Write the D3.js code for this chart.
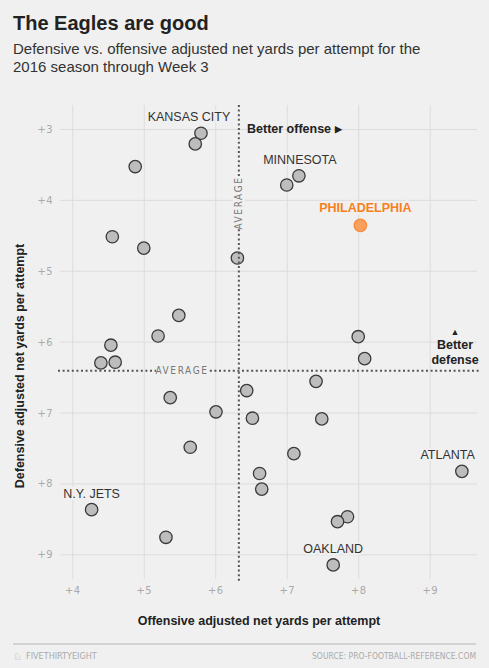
<!DOCTYPE html>
<html>
<head>
<meta charset="utf-8">
<script src="https://cdn.jsdelivr.net/npm/d3@7"></script>
<style>
  body { margin: 0; background: #f0f0f0; }
  svg { display: block; font-family: "Liberation Sans", Arial, sans-serif; }
  .tick text { font-family: "DejaVu Sans Condensed", "Liberation Sans Narrow", sans-serif; fill: #aaa; font-size: 11px; letter-spacing: 0.5px; }
  .tick line { stroke: #dcdcdc; }
  .domain { display: none; }
</style>
</head>
<body>
<svg id="chart"></svg>
<script>
// 32 teams, offensive vs defensive ANY/A through week 3 (only six are named in the chart)
const teams = [
  'Kansas City', '', '', '', '', '',
  'Minnesota', '', 'Philadelphia',
  '', '', '', '', '', '', '', '', '',
  '', '', '', '', '', '', '', '', 'Atlanta',
  'N.Y. Jets', '', '', '', 'Oakland'
];
const offense = [
  5.80, 5.72, 4.88, 4.56, 5.00, 6.31,
  7.17, 7.00, 8.03,
  5.49, 5.20, 4.54, 4.40, 4.60, 5.37, 6.01, 5.65, 6.44,
  8.00, 8.09, 7.41, 6.52, 7.49, 7.10, 6.62, 6.65, 9.45,
  4.27, 5.31, 7.85, 7.71, 7.65
];
const defense = [
  3.06, 3.21, 3.53, 4.52, 4.68, 4.82,
  3.66, 3.79, 4.36,
  5.63, 5.92, 6.05, 6.30, 6.29, 6.79, 6.99, 7.49, 6.69,
  5.93, 6.24, 6.56, 7.08, 7.09, 7.58, 7.86, 8.08, 7.83,
  8.37, 8.76, 8.47, 8.54, 9.15
];
const avgOffense = 6.33;
const avgDefense = 6.41;
const xTicks = [4, 5, 6, 7, 8, 9];
const yTicks = [3, 4, 5, 6, 7, 8, 9];
const labelled = ['Kansas City', 'Minnesota', 'Philadelphia', 'Atlanta', 'N.Y. Jets', 'Oakland'];
const highlight = 'Philadelphia';

const width = 489;
const height = 668;
const orange = '#f77f1e';

const data = teams.map((name, i) => ({ name, off: offense[i], def: defense[i] }));

const svg = d3.select('#chart')
  .attr('width', width)
  .attr('height', height);

svg.append('rect')
  .attr('width', width)
  .attr('height', height)
  .attr('fill', '#f0f0f0');

// header
svg.append('text')
  .attr('x', 13)
  .attr('y', 30)
  .attr('font-size', 20)
  .attr('font-weight', 'bold')
  .attr('fill', '#222')
  .text('The Eagles are good');

svg.append('text')
  .attr('x', 13)
  .attr('y', 54)
  .attr('font-size', 15)
  .attr('fill', '#333')
  .text('Defensive vs. offensive adjusted net yards per attempt for the');

svg.append('text')
  .attr('x', 13)
  .attr('y', 72)
  .attr('font-size', 15)
  .attr('fill', '#333')
  .text('2016 season through Week 3');

const scaleX = d3.scaleLinear()
  .domain([4, 9])
  .range([72.3, 429.7]);

const scaleY = d3.scaleLinear()
  .domain([3, 9])
  .range([129, 554.3]);

const plotTop = 105;
const plotBottom = 579;
const plotLeft = 60;
const plotRight = 477;

// grid + ticks
svg.append('g')
  .attr('transform', `translate(0,${plotBottom})`)
  .call(d3.axisBottom(scaleX)
    .tickValues(xTicks)
    .tickSize(-(plotBottom - plotTop))
    .tickPadding(7)
    .tickFormat(d => '+' + d));

svg.append('g')
  .attr('transform', `translate(${plotLeft},0)`)
  .call(d3.axisLeft(scaleY)
    .tickValues(yTicks)
    .tickSize(-(plotRight - plotLeft))
    .tickPadding(7)
    .tickFormat(d => '+' + d))
  .selectAll('.tick text')
  .attr('x', -7);

// team labels (drawn before dots)
const labelPos = {
  'Kansas City': { dx: -12, dy: -12, anchor: 'middle' },
  'Minnesota': { dx: 1, dy: -12, anchor: 'middle' },
  'Philadelphia': { dx: 5, dy: -13, anchor: 'middle' },
  'Atlanta': { dx: 13, dy: -12, anchor: 'end' },
  'N.Y. Jets': { dx: 0, dy: -12, anchor: 'middle' },
  'Oakland': { dx: 0, dy: -12, anchor: 'middle' },
};

svg.append('g')
  .selectAll('text')
  .data(data.filter(d => labelled.includes(d.name)))
  .enter().append('text')
  .attr('x', d => scaleX(d.off) + labelPos[d.name].dx)
  .attr('y', d => scaleY(d.def) + labelPos[d.name].dy)
  .attr('text-anchor', d => labelPos[d.name].anchor)
  .attr('font-size', 12.5)
  .attr('font-weight', d => d.name === highlight ? 'bold' : 'normal')
  .attr('fill', d => d.name === highlight ? orange : '#333')
  .attr('stroke', '#f0f0f0')
  .attr('stroke-width', 4)
  .attr('paint-order', 'stroke')
  .text(d => d.name.toUpperCase());

// dots
svg.append('g')
  .selectAll('circle')
  .data(data)
  .enter().append('circle')
  .attr('cx', d => scaleX(d.off))
  .attr('cy', d => scaleY(d.def))
  .attr('r', 6.2)
  .attr('fill', d => d.name === highlight ? '#f9a05c' : '#bdbdbd')
  .attr('stroke', d => d.name === highlight ? '#f98a3c' : '#3a3a3a')
  .attr('stroke-width', 1.3);

// average lines
const dotted = { stroke: '#555', 'stroke-width': 2, 'stroke-dasharray': '2,2.6' };

const vAvg = svg.append('line')
  .attr('x1', scaleX(avgOffense))
  .attr('x2', scaleX(avgOffense))
  .attr('y1', plotTop)
  .attr('y2', plotBottom + 2);
const hAvg = svg.append('line')
  .attr('x1', 58)
  .attr('x2', 481)
  .attr('y1', scaleY(avgDefense))
  .attr('y2', scaleY(avgDefense));
[vAvg, hAvg].forEach(l => Object.entries(dotted).forEach(([k, v]) => l.attr(k, v)));

function avgLabel(x, y, rotate) {
  const g = svg.append('g')
    .attr('transform', `translate(${x},${y}) rotate(${rotate})`);
  g.append('rect')
    .attr('x', -26)
    .attr('y', -6)
    .attr('width', 52)
    .attr('height', 12)
    .attr('fill', '#f0f0f0');
  g.append('text')
    .attr('text-anchor', 'middle')
    .attr('dy', '0.36em')
    .attr('font-family', '"DejaVu Sans Condensed", sans-serif')
    .attr('font-size', 10)
    .attr('letter-spacing', 1.6)
    .attr('fill', '#777')
    .text('AVERAGE');
}
avgLabel(scaleX(avgOffense), 203, -90);
avgLabel(182, scaleY(avgDefense), 0);

// direction notes
const offNote = svg.append('text')
  .attr('x', 247)
  .attr('y', 133)
  .attr('font-size', 12.5)
  .attr('font-weight', 'bold')
  .attr('fill', '#222');
offNote.append('tspan').text('Better offense ');
offNote.append('tspan').attr('font-size', 9).attr('dy', -1).text('\u25B6');

const defNote = svg.append('text')
  .attr('text-anchor', 'middle')
  .attr('font-size', 12.5)
  .attr('font-weight', 'bold')
  .attr('fill', '#222');
defNote.append('tspan').attr('x', 455).attr('y', 335).attr('font-size', 9).text('\u25B2');
defNote.append('tspan').attr('x', 455).attr('y', 349).text('Better');
defNote.append('tspan').attr('x', 455).attr('y', 363.5).text('defense');

// axis titles
svg.append('text')
  .attr('x', 259)
  .attr('y', 625)
  .attr('text-anchor', 'middle')
  .attr('font-size', 12.5)
  .attr('font-weight', 'bold')
  .attr('fill', '#222')
  .text('Offensive adjusted net yards per attempt');

svg.append('text')
  .attr('transform', 'translate(24,366) rotate(-90)')
  .attr('text-anchor', 'middle')
  .attr('font-size', 12.5)
  .attr('font-weight', 'bold')
  .attr('fill', '#222')
  .text('Defensive adjusted net yards per attempt');

// footer
svg.append('line')
  .attr('x1', 13)
  .attr('x2', 476)
  .attr('y1', 644)
  .attr('y2', 644)
  .attr('stroke', '#c8c8c8')
  .attr('stroke-width', 1.5);

svg.append('text')
  .attr('x', 13)
  .attr('y', 659.5)
  .attr('font-size', 10)
  .attr('fill', '#aaa')
  .text('\u2658');

svg.append('text')
  .attr('x', 26)
  .attr('y', 659)
  .attr('font-family', '"DejaVu Sans Condensed", sans-serif')
  .attr('font-size', 9)
  .attr('fill', '#aaa')
  .text('FIVETHIRTYEIGHT');

svg.append('text')
  .attr('x', 476)
  .attr('y', 659)
  .attr('text-anchor', 'end')
  .attr('font-family', '"DejaVu Sans Condensed", sans-serif')
  .attr('font-size', 8.5)
  .attr('fill', '#aaa')
  .text('SOURCE: PRO-FOOTBALL-REFERENCE.COM');
</script>
</body>
</html>
